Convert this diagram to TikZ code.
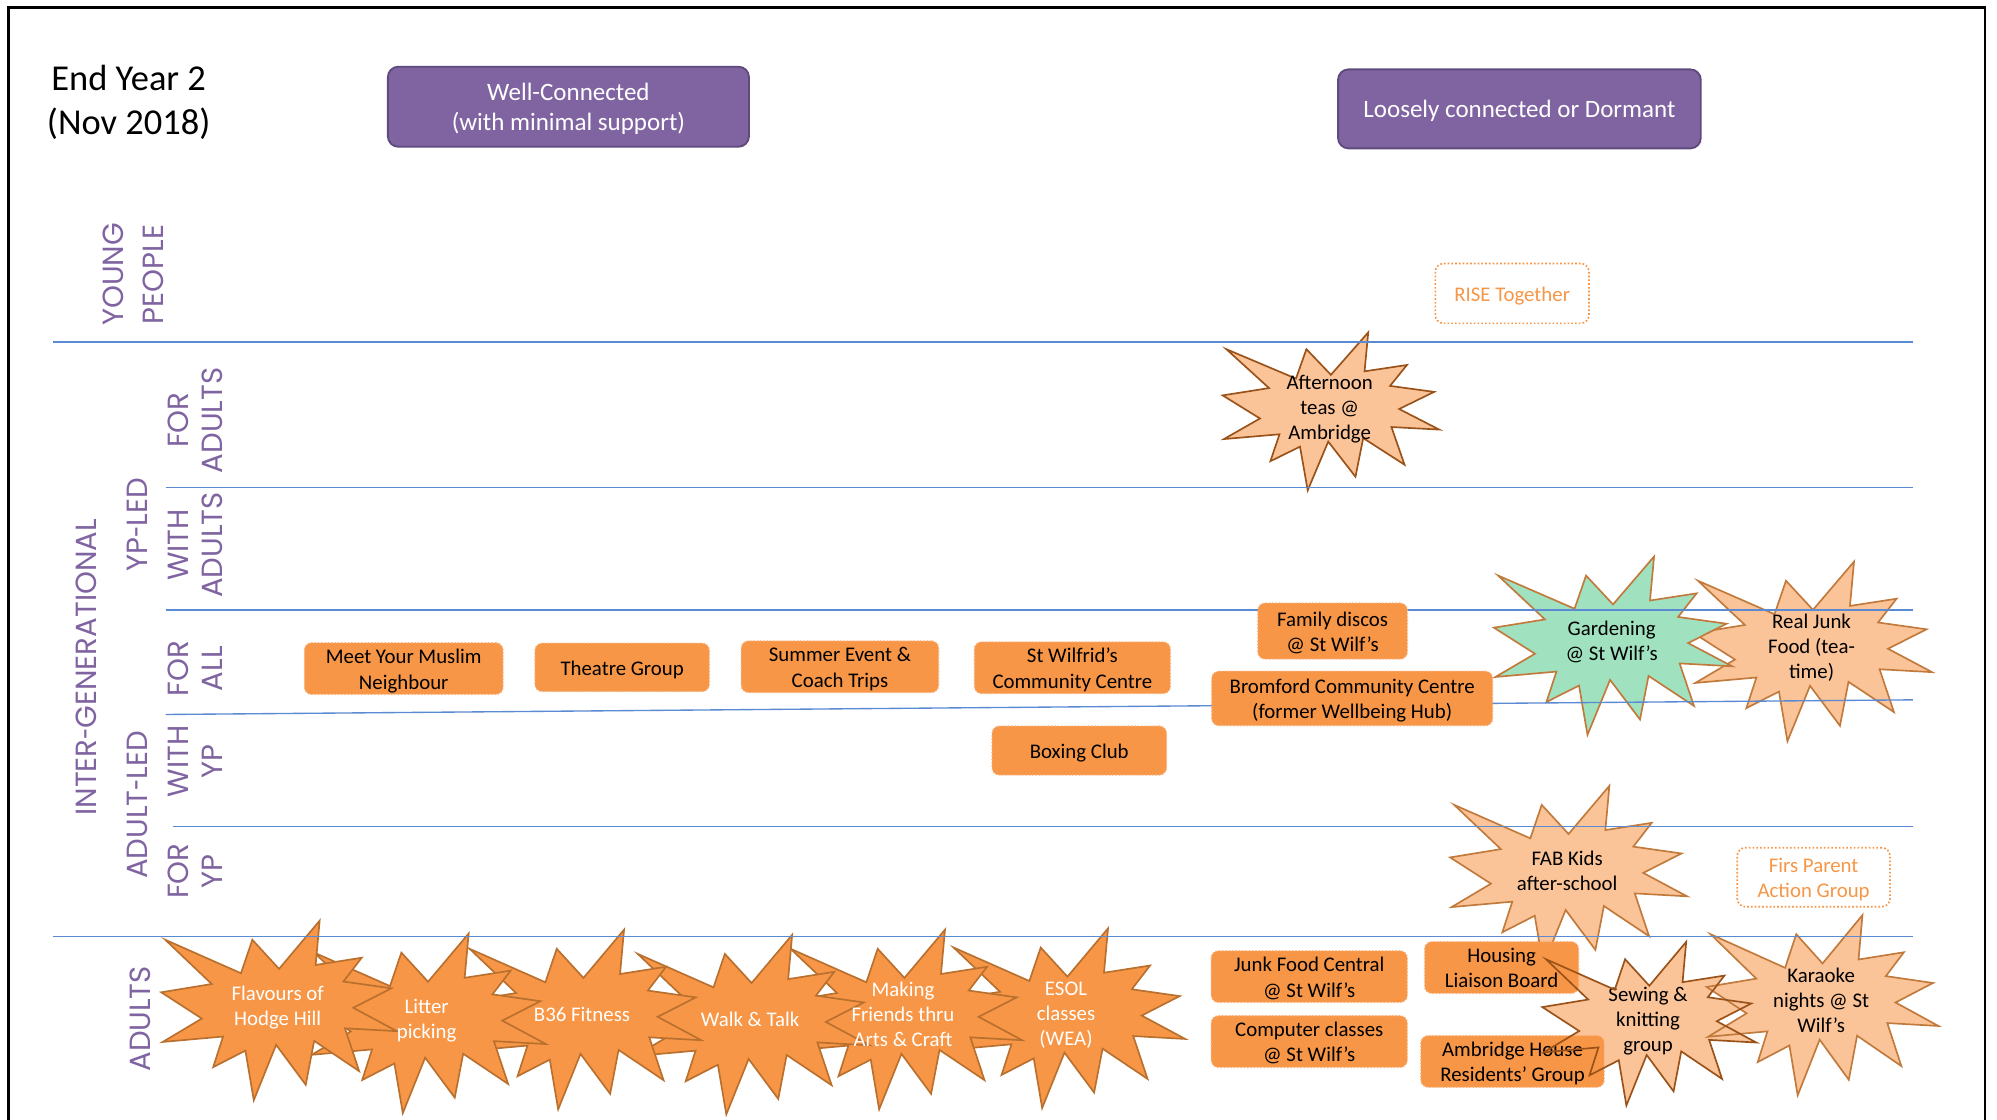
\documentclass[tikz,border=0pt]{standalone}
\usepackage{fontspec}
\usepackage{graphicx}
\setmainfont{Carlito}
\newfontfamily\gothic{Poppins}

\definecolor{purplefill}{HTML}{8064A2}
\definecolor{purpleedge}{HTML}{5E4A7D}
\definecolor{labelpurple}{HTML}{8064A2}
\definecolor{ruleblue}{HTML}{5A8AD2}
\definecolor{boxorange}{HTML}{F79646}
\definecolor{boxedge}{HTML}{FAB37E}
\definecolor{burstedge}{HTML}{B9702E}
\definecolor{peach}{HTML}{FAC398}
\definecolor{peachedge}{HTML}{9A5218}
\definecolor{peachedgelight}{HTML}{C27A3C}
\definecolor{mint}{HTML}{A0E1BF}
\definecolor{ghostorange}{HTML}{F79646}

% one unit of the picture grid
\newdimen\pxu \pxu=0.6113pt
% narrow hyphen for the row labels
\newcommand{\labelhyphen}{\scalebox{0.7}[1]{-}}

% explosion outline on a 1000 x 1000 grid, origin at the top left corner
\newcommand{\sealpts}{(500.0,268.5) -- (386.7,106.3) -- (338.5,292.6) -- (17.1,106.3) -- (214.2,352.6) -- (0,398.8) -- (172.3,545.1) -- (6.25,675.3) -- (262.4,645.2) -- (220.5,815.6) -- (357.2,723.5) -- (392.8,1000) -- (487.6,691.4) -- (613.3,913.8) -- (649.1,669.3) -- (840.0,837.7) -- (779.5,599.2) -- (1000,615.3) -- (815.1,485.0) -- (976.7,376.7) -- (773.2,338.7) -- (850.9,206.3) -- (655.3,246.5) -- (672.3,0) -- cycle}
% #1,#2 top left corner, #3 width, #4 height, #5 style
\newcommand{\sealshape}[5]{\path[#5, shift={(#1,#2)}, xscale=#3/1000, yscale=#4/1000] \sealpts;}

\begin{document}
\begin{tikzpicture}[x=0.6113pt, y=-0.6113pt,
  % fixed text metrics, measured from the baseline of the last line
  toprule/.style={execute at begin node={\rule{0pt}{#1}}},
  botrule/.style={execute at end node={\rule[-#1]{0pt}{0pt}}},
  yeartitle/.style={align=center, font=\fontsize{17.5}{21}\selectfont, inner sep=0pt, toprule=35.4pt, botrule=4.2pt},
  headbox/.style={draw=purpleedge, line width=0.9pt, fill=purplefill, rounded corners=5pt, text=white, align=center, font=\fontsize{12}{14.6}\selectfont, inner sep=0pt, toprule=11.2pt, botrule=2.9pt},
  rowlabel/.style={rotate=90, text=labelpurple, align=center, font=\gothic\fontsize{14}{16.5}\selectfont, inner sep=0pt},
  divider/.style={draw=ruleblue, line width=0.65pt},
  smalltext/.style={align=center, font=\fontsize{10}{12.2}\selectfont, inner sep=0pt, toprule=10pt, botrule=2.6pt},
  actbox/.style={smalltext, draw=boxedge, densely dotted, line width=0.6pt, fill=boxorange, rounded corners=3.5pt},
  idlebox/.style={smalltext, draw=ghostorange, densely dotted, line width=0.8pt, rounded corners=4pt, text=ghostorange},
  burstdark/.style={fill=boxorange, draw=burstedge, line width=0.8pt},
  burstpeach/.style={fill=peach, draw=peachedge, line width=0.8pt},
  burstpeachlight/.style={fill=peach, draw=peachedgelight, line width=0.8pt},
  burstmint/.style={fill=mint, draw=peachedgelight, line width=0.8pt},
  bursttext/.style={align=center, font=\fontsize{10}{12}\selectfont, inner sep=0pt, toprule=10.2pt, botrule=2.6pt},
]
\useasboundingbox (0,0) rectangle (1568,879);
\clip (0,0) rectangle (1568,879);
\fill[white] (0,0) rectangle (1568,879);

% frame
\draw[line width=1.3pt] (6.5,900) -- (6.5,6) -- (1558.5,6) -- (1558.5,900);

% heading
\node[yeartitle] (year) at (101,80) {End Year 2\\(Nov 2018)};
\node[headbox, toprule=25.8pt, minimum width=283.5\pxu, minimum height=62.8\pxu] (well) at (446.3,83.8) {Well-Connected\\(with minimal support)};
\node[headbox, minimum width=284.8\pxu, minimum height=62\pxu] (loose) at (1193,85.5) {Loosely connected or Dormant};

% row labels
\node[rowlabel, font=\gothic\fontsize{14}{19}\selectfont] (young) at (104.5,215.5) {YOUNG\\PEOPLE};
\node[rowlabel] (inter) at (68,524) {INTER\labelhyphen GENERATIONAL};
\node[rowlabel] (ypled) at (108,412) {YP\labelhyphen LED};
\node[rowlabel] (adultled) at (108,632) {ADULT\labelhyphen LED};
\node[rowlabel] (foradults) at (153.5,330) {FOR\\ADULTS};
\node[rowlabel] (withadults) at (153.5,428) {WITH\\ADULTS};
\node[rowlabel] (forall) at (153.5,525) {FOR\\ALL};
\node[rowlabel] (withyp) at (153.5,598) {WITH\\YP};
\node[rowlabel] (foryp) at (153.5,684) {FOR\\YP};
\node[rowlabel] (adults) at (110,800) {ADULTS};

% adult activities, the left one of each pair lying on top
\sealshape{745.6}{729}{185}{141}{burstdark}
\sealshape{617.6}{730}{185}{141}{burstdark}
\sealshape{497.6}{734}{185}{141}{burstdark}
\sealshape{365.6}{730}{185}{141}{burstdark}
\sealshape{243.6}{733}{185}{141}{burstdark}
\sealshape{126.6}{722.9}{185}{141}{burstdark}
\node[bursttext, toprule=22.2pt, text=white] (flavours) at (218,789) {Flavours of\\Hodge Hill};
\node[bursttext, toprule=22.2pt, text=white] (litter) at (335,799) {Litter\\picking};
\node[bursttext, text=white] (fitness) at (457,796) {B36 Fitness};
\node[bursttext, text=white] (walk) at (589,800) {Walk \& Talk};
\node[bursttext, toprule=34.2pt, text=white] (friends) at (709,796) {Making\\Friends thru\\Arts \& Craft};
\node[bursttext, toprule=34.2pt, text=white] (esol) at (837,795) {ESOL\\classes\\(WEA)};

% loosely connected activities
\sealshape{960}{261}{170}{124}{burstpeach}
\node[bursttext, toprule=34.2pt] (teas) at (1044,319) {Afternoon\\teas @\\Ambridge};
\sealshape{1330}{441}{187}{141}{burstpeachlight}
\sealshape{1173}{437}{187}{140}{burstmint}
\node[bursttext, toprule=22.2pt] (gardening) at (1265.4,502.7) {Gardening\\@ St Wilf's};
\node[bursttext, toprule=34.2pt] (realjunk) at (1422.4,507.1) {Real Junk\\Food (tea-\\time)};
\sealshape{1138.6}{617}{186}{141}{burstpeachlight}
\node[bursttext, toprule=22.2pt] (fabkids) at (1230.5,683.1) {FAB Kids\\after-school};
\sealshape{1211}{739.5}{168}{128.5}{fill=peach}
\node[bursttext, toprule=34.2pt] (sewing) at (1294,799.8) {Sewing \&\\knitting\\group};
\sealshape{1340}{718.5}{182}{141.5}{burstpeachlight}
\node[bursttext, toprule=34.2pt] (karaoke) at (1429.9,784.9) {Karaoke\\nights @ St\\Wilf's};

% row dividers
\draw[divider] (42,268.5) -- (1502,268.5);
\draw[divider] (130,383) -- (1502,383);
\draw[divider] (130,479) -- (1502,479);
\draw[divider] (130,561) -- (1502,549.5);
\draw[divider] (136,649) -- (1502,649);
\draw[divider] (42,735.5) -- (1502,735.5);

% well-connected groups
\node[actbox, toprule=22.2pt, minimum width=156\pxu, minimum height=40\pxu] (muslim) at (317,525) {Meet Your Muslim\\Neighbour};
\node[actbox, minimum width=137\pxu, minimum height=38\pxu] (theatre) at (488.5,524) {Theatre Group};
\node[actbox, toprule=22.2pt, minimum width=155\pxu, minimum height=39\pxu] (summer) at (659.5,523.5) {Summer Event \&\\Coach Trips};
\node[actbox, toprule=22.2pt, minimum width=154\pxu, minimum height=39.5\pxu] (wilfrid) at (842,524.3) {St Wilfrid's\\Community Centre};
\node[actbox, minimum width=137\pxu, minimum height=38.5\pxu] (boxing) at (847.4,589.3) {Boxing Club};
\node[actbox, toprule=22.2pt, minimum width=117.5\pxu, minimum height=44\pxu] (discos) at (1046.3,495.5) {Family discos\\@ St Wilf's};
\node[actbox, toprule=22.2pt, minimum width=220.6\pxu, minimum height=42.8\pxu] (bromford) at (1061.7,548.4) {Bromford Community Centre\\(former Wellbeing Hub)};
\node[actbox, toprule=22.2pt, minimum width=154\pxu, minimum height=39.5\pxu] (junkcentral) at (1028,766.8) {Junk Food Central\\@ St Wilf's};
\node[actbox, toprule=22.2pt, minimum width=154\pxu, minimum height=39.5\pxu] (computer) at (1028,817.8) {Computer classes\\@ St Wilf's};
\node[actbox, toprule=22.2pt, minimum width=121\pxu, minimum height=39.4\pxu] (housing) at (1179,759.7) {Housing\\Liaison Board};
\node[actbox, toprule=22.2pt, minimum width=144\pxu, minimum height=38.7\pxu] (ambridge) at (1187.6,833.4) {Ambridge House\\Residents' Group};

% dormant groups
\node[idlebox, minimum width=120.6\pxu, minimum height=47\pxu] (rise) at (1187.3,230.4) {RISE Together};
\node[idlebox, toprule=22.2pt, minimum width=120\pxu, minimum height=46.4\pxu] (firs) at (1424,688.8) {Firs Parent\\Action Group};

% outline of the sewing burst over the neighbouring boxes
\sealshape{1211}{739.5}{168}{128.5}{draw=peachedge, line width=0.8pt}
\end{tikzpicture}
\end{document}
